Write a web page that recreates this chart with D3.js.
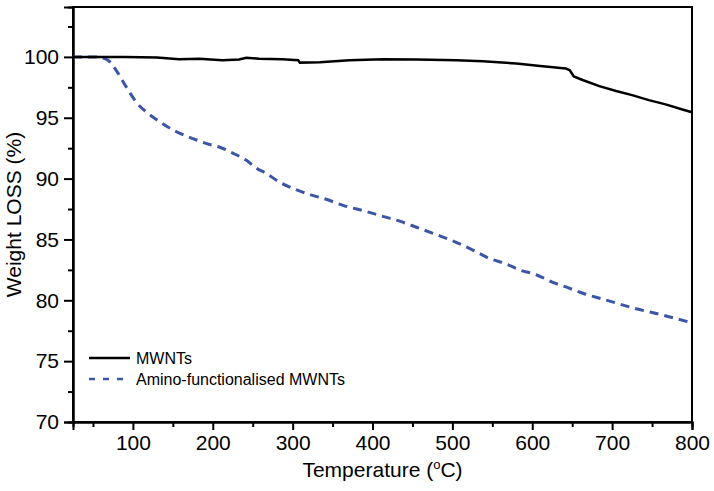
<!DOCTYPE html>
<html><head><meta charset="utf-8">
<script src="https://cdn.jsdelivr.net/npm/d3@7"></script>
<style>body{margin:0;background:#fff}svg{display:block}text{font-family:"Liberation Sans",Arial,sans-serif}</style>
</head><body>
<svg id="c" width="714" height="491"></svg>
<script>
const mwntT = [25, 60, 90, 130, 158, 183, 212, 233, 242, 258, 287, 307, 309, 334, 371, 413, 455, 505, 538, 580, 613, 642, 647, 652, 663, 684, 705, 725, 746, 767, 788, 800];
const mwntV = [100, 100, 100, 99.95, 99.8, 99.85, 99.73, 99.78, 99.93, 99.85, 99.8, 99.73, 99.53, 99.56, 99.73, 99.8, 99.78, 99.73, 99.65, 99.46, 99.24, 99.05, 98.9, 98.4, 98.1, 97.6, 97.2, 96.86, 96.45, 96.1, 95.68, 95.45];
const aminoT = [25, 52, 67, 79, 92, 104, 119, 133, 150, 167, 183, 196, 208, 225, 242, 256, 265, 284, 300, 321, 342, 363, 392, 413, 434, 455, 480, 500, 525, 546, 567, 584, 605, 625, 646, 667, 688, 709, 730, 750, 771, 800];
const aminoV = [100, 100, 99.8, 98.9, 97.5, 96.3, 95.35, 94.7, 94.0, 93.5, 93.1, 92.8, 92.6, 92.1, 91.5, 90.8, 90.5, 89.7, 89.2, 88.7, 88.3, 87.8, 87.3, 86.9, 86.5, 86.0, 85.4, 84.9, 84.15, 83.45, 83.0, 82.5, 82.1, 81.5, 81.0, 80.5, 80.1, 79.7, 79.3, 79.0, 78.65, 78.15];
const xTicks = [100, 200, 300, 400, 500, 600, 700, 800];
const xMinor = [50, 150, 250, 350, 450, 550, 650, 750];
const yTicks = [70, 75, 80, 85, 90, 95, 100];
const yMinor = [72.5, 77.5, 82.5, 87.5, 92.5, 97.5, 102.5];
const seriesNames = ["MWNTs", "Amino-functionalised MWNTs"];

const L = 73, R = 692, T = 7, B = 422;
const svg = d3.select("#c");
const x = d3.scaleLinear().domain([25, 800]).range([L, R]);
const y = d3.scaleLinear().domain([70, 104.1]).range([B, T]);

const fs = 21;
svg.append("rect").attr("x", L).attr("y", T).attr("width", R - L).attr("height", B - T)
  .attr("fill", "none").attr("stroke", "#000").attr("stroke-width", 2);

const gx = svg.append("g").attr("transform", `translate(0,${B})`)
  .call(d3.axisBottom(x).tickValues(xTicks).tickSize(8).tickPadding(5).tickFormat(d3.format("d")));
const gxm = svg.append("g").attr("transform", `translate(0,${B})`)
  .call(d3.axisBottom(x).tickValues(xMinor).tickSize(5).tickFormat(""));
const gy = svg.append("g").attr("transform", `translate(${L},0)`)
  .call(d3.axisLeft(y).tickValues(yTicks).tickSize(9).tickPadding(5).tickFormat(d3.format("d")));
const gym = svg.append("g").attr("transform", `translate(${L},0)`)
  .call(d3.axisLeft(y).tickValues(yMinor).tickSize(5).tickFormat(""));
[gx, gxm, gy, gym].forEach(g => {
  g.select(".domain").attr("stroke-width", 2);
  g.selectAll(".tick line").attr("stroke-width", 2);
  g.selectAll("text").attr("font-size", fs).attr("fill", "#000")
    .attr("font-family", '"Liberation Sans",Arial,sans-serif');
});
gx.selectAll(".tick text").attr("dy", "0.71em");

const lineLin = d3.line().x(d => x(d[0])).y(d => y(d[1]));
const lineMono = d3.line().x(d => x(d[0])).y(d => y(d[1])).curve(d3.curveMonotoneX);
svg.append("path").datum(d3.zip(aminoT, aminoV)).attr("d", lineMono)
  .attr("fill", "none").attr("stroke", "#3d55a6").attr("stroke-width", 3)
  .attr("stroke-dasharray", "9,6");
svg.append("path").datum(d3.zip(mwntT, mwntV)).attr("d", lineLin)
  .attr("fill", "none").attr("stroke", "#000").attr("stroke-width", 2.5);

const lg = svg.append("g");
lg.append("line").attr("x1", 89).attr("x2", 130).attr("y1", 358).attr("y2", 358)
  .attr("stroke", "#000").attr("stroke-width", 2.5);
lg.append("line").attr("x1", 89).attr("x2", 130).attr("y1", 379).attr("y2", 379)
  .attr("stroke", "#3d55a6").attr("stroke-width", 2.5).attr("stroke-dasharray", "6,8");
lg.append("text").attr("x", 136).attr("y", 364).attr("font-size", 16).text(seriesNames[0]);
lg.append("text").attr("x", 136).attr("y", 384.5).attr("font-size", 16).text(seriesNames[1]);

const xt = svg.append("text").attr("x", (L + R) / 2).attr("y", 477).attr("text-anchor", "middle")
  .attr("font-size", fs);
xt.append("tspan").text("Temperature (");
xt.append("tspan").attr("font-size", 13).attr("dy", -8).text("o");
xt.append("tspan").attr("dy", 8).text("C)");
svg.append("text").attr("transform", `translate(21,${(T + B) / 2}) rotate(-90)`)
  .attr("text-anchor", "middle").attr("font-size", fs).text("Weight LOSS (%)");
</script>
</body></html>
